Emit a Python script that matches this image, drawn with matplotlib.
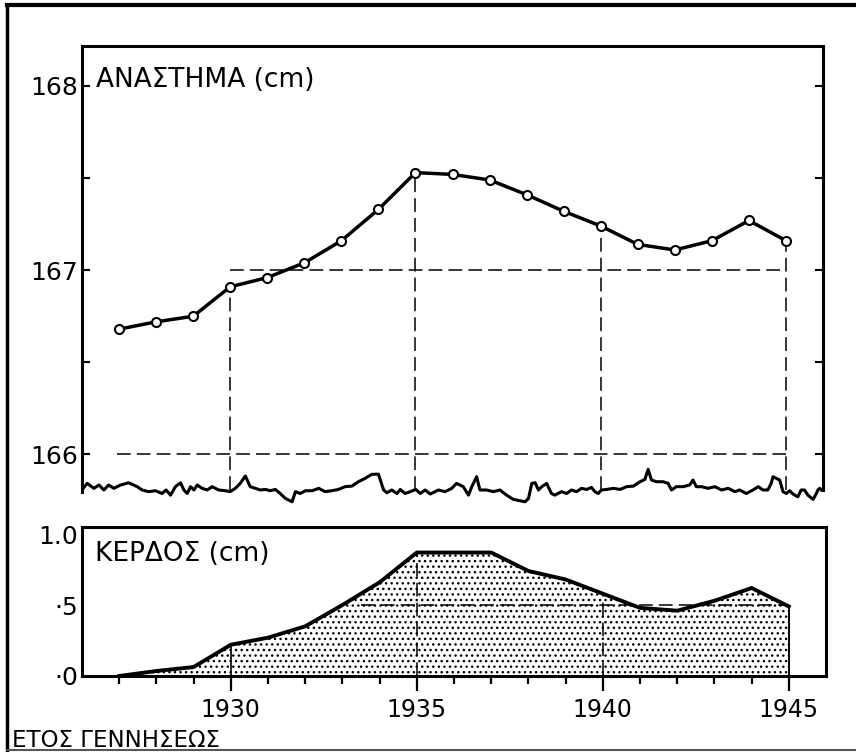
import matplotlib
matplotlib.use("Agg")
import matplotlib.pyplot as plt
from matplotlib.lines import Line2D

# stature (cm) by year of birth
years = [1927, 1928, 1929, 1930, 1931, 1932, 1933, 1934, 1935, 1936,
         1937, 1938, 1939, 1940, 1941, 1942, 1943, 1944, 1945]
height = [166.68, 166.72, 166.75, 166.91, 166.96, 167.04, 167.16, 167.33, 167.53, 167.52,
          167.49, 167.41, 167.32, 167.24, 167.14, 167.11, 167.16, 167.27, 167.16]
# gain (cm) relative to 1927
gain = [0.0, 0.035, 0.063, 0.22, 0.27, 0.35, 0.50, 0.66, 0.87, 0.87,
        0.87, 0.74, 0.68, 0.58, 0.48, 0.46, 0.53, 0.62, 0.49]

guide_years = [1930, 1935, 1940, 1945]
gain_guide_years = [1935, 1940]

top_ticks = [166, 166.5, 167, 167.5, 168]
top_ticklabels = ["166", "", "167", "", "168"]
bottom_ticks = [0, 0.5, 1.0]
bottom_ticklabels = ["·0", "·5", "1.0"]

# hand-drawn axis break line along the bottom of the upper panel
break_x = [1925.96, 1926.14, 1926.32, 1926.46, 1926.59, 1926.72, 1926.86, 1927.04, 1927.26, 1927.49,
           1927.62, 1927.80, 1927.98, 1928.16, 1928.27, 1928.39, 1928.52, 1928.66, 1928.75, 1928.84,
           1928.93, 1929.02, 1929.11, 1929.24, 1929.38, 1929.51, 1929.69, 1929.87, 1930.00, 1930.14,
           1930.27, 1930.41, 1930.54, 1930.68, 1930.81, 1930.95, 1931.08, 1931.22, 1931.35, 1931.49,
           1931.67, 1931.76, 1931.89, 1932.03, 1932.21, 1932.39, 1932.56, 1932.74, 1932.92, 1933.10,
           1933.28, 1933.46, 1933.64, 1933.82, 1934.00, 1934.14, 1934.23, 1934.36, 1934.50, 1934.59,
           1934.72, 1934.86, 1935.01, 1935.13, 1935.26, 1935.40,
           1935.62, 1935.80, 1935.98, 1936.11, 1936.20, 1936.29, 1936.43, 1936.52, 1936.65, 1936.74,
           1936.92, 1937.10, 1937.28, 1937.46, 1937.64, 1937.82, 1937.96, 1938.05, 1938.14, 1938.23,
           1938.32, 1938.41, 1938.54, 1938.67, 1938.76, 1938.94, 1939.08, 1939.21, 1939.35, 1939.48,
           1939.62, 1939.75, 1939.84, 1939.93, 1940.02, 1940.16, 1940.34, 1940.52, 1940.70, 1940.88,
           1941.06, 1941.19, 1941.28, 1941.37, 1941.50, 1941.68, 1941.82, 1941.91, 1942.04, 1942.22,
           1942.40, 1942.49, 1942.58, 1942.72, 1942.90, 1943.08, 1943.26, 1943.44, 1943.62, 1943.75,
           1943.93, 1944.11, 1944.25, 1944.38, 1944.51, 1944.60, 1944.65, 1944.74, 1944.83, 1944.92,
           1945.01, 1945.10, 1945.19, 1945.32, 1945.41, 1945.50, 1945.59, 1945.73, 1945.82, 1945.86,
           1945.91, 1945.95]
break_y = [165.798, 165.843, 165.816, 165.834, 165.807, 165.834, 165.816, 165.834, 165.846, 165.825,
           165.807, 165.798, 165.803, 165.788, 165.807, 165.779, 165.825, 165.846, 165.807, 165.788,
           165.825, 165.807, 165.834, 165.816, 165.807, 165.825, 165.807, 165.803, 165.798, 165.816,
           165.843, 165.883, 165.825, 165.816, 165.807, 165.810, 165.803, 165.810, 165.788, 165.761,
           165.743, 165.798, 165.788, 165.803, 165.803, 165.816, 165.798, 165.803, 165.810, 165.825,
           165.828, 165.852, 165.870, 165.892, 165.893, 165.807, 165.792, 165.807, 165.788, 165.810,
           165.788, 165.798, 165.810, 165.788, 165.807, 165.785,
           165.807, 165.798, 165.816, 165.843, 165.834, 165.825, 165.779, 165.825, 165.879, 165.807,
           165.807, 165.798, 165.807, 165.779, 165.756, 165.749, 165.743, 165.761, 165.843, 165.846,
           165.807, 165.825, 165.843, 165.788, 165.779, 165.798, 165.788, 165.807, 165.798, 165.816,
           165.810, 165.821, 165.798, 165.788, 165.807, 165.810, 165.816, 165.810, 165.825, 165.828,
           165.852, 165.864, 165.919, 165.861, 165.852, 165.852, 165.843, 165.807, 165.825, 165.825,
           165.834, 165.861, 165.825, 165.825, 165.816, 165.825, 165.807, 165.816, 165.798, 165.807,
           165.788, 165.807, 165.825, 165.807, 165.807, 165.843, 165.879, 165.870, 165.861, 165.798,
           165.788, 165.803, 165.785, 165.770, 165.807, 165.807, 165.779, 165.756, 165.788, 165.807,
           165.816, 165.807]

plt.rcParams['font.family'] = ['DejaVu Sans']
plt.rcParams['hatch.linewidth'] = 1.0

fig = plt.figure(figsize=(8.56, 7.52), dpi=100)

dash = (0, (9, 4))
spine_lw = 2.2

# ---- upper panel: stature ----
ax = fig.add_axes([0.0958, 0.3271, 0.8657, 0.6117])
ax.set_xlim(1926, 1946)
ax.set_ylim(165.72, 168.217)
break_top = 165.807

ax.plot(years, height, color='black', lw=2.5, marker='o', ms=6.5,
        mfc='white', mec='black', mew=1.5, zorder=4)

h_at = dict(zip(years, height))
for yr in guide_years:
    ax.plot([yr, yr], [break_top, h_at[yr]], color='black', lw=1.1, ls=dash, zorder=2)
ax.plot([1926.95, 1945], [166, 166], color='black', lw=1.1, ls=dash, zorder=2)
ax.plot([1930, 1945], [167, 167], color='black', lw=1.1, ls=dash, zorder=2)

ax.plot(break_x, break_y, color='black', lw=2.2, zorder=3)

for side in ['left', 'right', 'top']:
    ax.spines[side].set_linewidth(spine_lw)
ax.spines['left'].set_bounds(break_y[0], 168.217)
ax.spines['right'].set_bounds(break_y[-1], 168.217)
ax.spines['bottom'].set_visible(False)

ax.set_xticks([])
ax.set_yticks(top_ticks)
ax.set_yticklabels(top_ticklabels, fontsize=18)
ax.tick_params(axis='y', direction='in', length=6, width=1.5,
               left=True, right=True, pad=3)

ax.text(1926.37, 168.03, "ΑΝΑΣΤΗΜΑ (cm)", fontsize=19, va='center', ha='left')

# ---- lower panel: gain ----
bx = fig.add_axes([0.0958, 0.1011, 0.8692, 0.1981])
bx.set_xlim(1926, 1946)
bx.set_ylim(0, 1.05)

bx.fill_between(years, 0, gain, facecolor='white', edgecolor='black',
                hatch='...', lw=0, zorder=1)
bx.plot(years, gain, color='black', lw=2.8, zorder=4)

g_at = dict(zip(years, gain))
bx.plot([1930, 1930], [0, g_at[1930]], color='black', lw=1.2, zorder=3)
bx.plot([1945, 1945], [0, g_at[1945]], color='black', lw=1.4, zorder=3)
for yr in gain_guide_years:
    bx.plot([yr, yr], [0, g_at[yr]], color='black', lw=1.1, ls=dash, zorder=3)
bx.plot([1933.5, 1945], [0.5, 0.5], color='black', lw=1.1, ls=dash, zorder=3)

for side in bx.spines:
    bx.spines[side].set_linewidth(spine_lw)

bx.set_yticks(bottom_ticks)
bx.set_yticklabels(bottom_ticklabels, fontsize=18)
bx.tick_params(axis='y', length=0, pad=3)

bx.set_xticks(guide_years)
bx.set_xticklabels([str(y) for y in guide_years], fontsize=17)
bx.set_xticks(years, minor=True)
bx.tick_params(axis='x', which='major', direction='out', length=11, width=1.6, pad=5)
bx.tick_params(axis='x', which='minor', direction='out', length=6, width=1.6)

bx.text(1926.35, 0.86, "ΚΕΡΔΟΣ (cm)", fontsize=19, va='center', ha='left')

fig.text(0.014, 0.007, "ΕΤΟΣ ΓΕΝΝΗΣΕΩΣ", fontsize=16.5, va='baseline', ha='left')

# outer frame of the scanned page
fig.add_artist(Line2D([0.0082, 0.0082], [0.003, 0.994], transform=fig.transFigure,
                      color='black', lw=2.5))
fig.add_artist(Line2D([0.0082, 1.0], [0.994, 0.994], transform=fig.transFigure,
                      color='black', lw=3))
fig.add_artist(Line2D([0.0082, 1.0], [0.003, 0.003], transform=fig.transFigure,
                      color='#555555', lw=1.5))

fig.savefig("out.png", dpi=100, facecolor='white')
